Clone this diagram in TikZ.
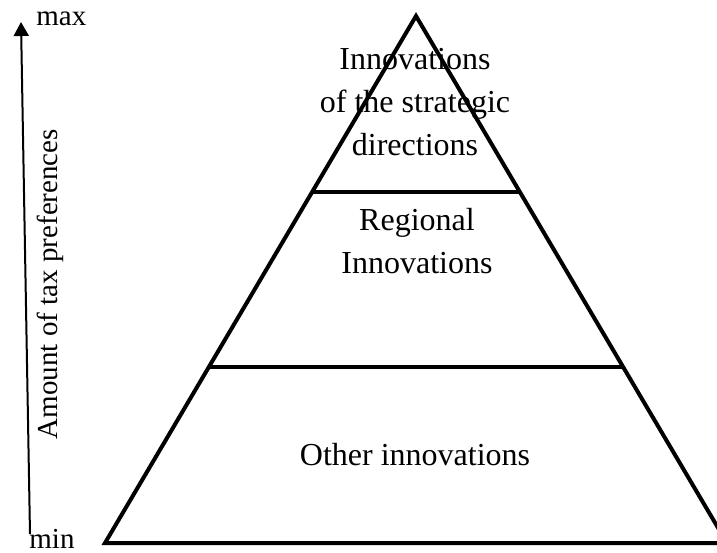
\documentclass[tikz,border=0pt]{standalone}
\usepackage{fontspec}
\setmainfont{Liberation Serif}
\usetikzlibrary{arrows.meta,calc}

\begin{document}
\begin{tikzpicture}[x=0.5pt,y=-0.5pt,
  edge/.style={line width=2pt},
  tier/.style={font=\fontsize{16}{21.5}\selectfont, align=center},
  axislabel/.style={font=\fontsize{14.5}{17}\selectfont, inner sep=0pt}]
  \useasboundingbox (0,0) rectangle (717,552);
  % pyramid
  \coordinate (T) at (416,16);
  \coordinate (L) at (105,543);
  \coordinate (R) at (727,543);
  \draw[edge] (L) -- (T) -- (R) -- cycle;
  \draw[edge] ($(L)!0.666!(T)$) -- ($(R)!0.666!(T)$);
  \draw[edge] ($(L)!0.334!(T)$) -- ($(R)!0.334!(T)$);
  \node[tier] (strategic) at (415,102) {Innovations\\of the strategic\\directions};
  \node[tier] (regional) at (417,241) {Regional\\Innovations};
  \node[tier, anchor=base] (other) at (415,465) {Other innovations};
  % axis
  \coordinate (amin) at (30,534);
  \coordinate (amax) at (21,22);
  \draw[line width=1pt, -{Triangle[width=7.5pt,length=7pt]}] (amin) -- (amax);
  \node[axislabel, anchor=base west] (max) at (36,25) {max};
  \node[axislabel, anchor=base west] (min) at (29,548) {min};
  \node[axislabel, anchor=base, rotate=90] (amount) at (57,284) {Amount of tax preferences};
\end{tikzpicture}
\end{document}
